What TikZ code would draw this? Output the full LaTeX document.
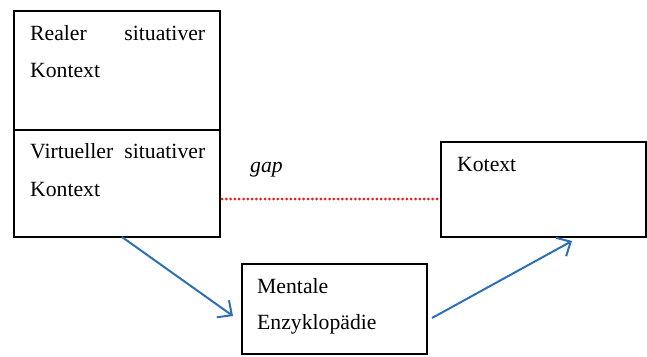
\documentclass[tikz,border=0pt]{standalone}
\usepackage{fontspec}
\setmainfont{Liberation Serif}
\usetikzlibrary{arrows.meta}
\definecolor{arrowblue}{RGB}{46,112,182}
\definecolor{gapred}{RGB}{235,25,25}
\begin{document}
\begin{tikzpicture}[x=1pt,y=-1pt,
  box/.style={draw=black,line width=2pt,minimum width=#1,inner sep=0pt,outer sep=0pt},
  txt/.style={anchor=base west,inner sep=0pt,font=\fontsize{21.7}{24}\selectfont},
  conn/.style={draw=arrowblue,line width=2pt,-{Straight Barb[length=11pt,width=21pt,line width=2pt]}},
  gapline/.style={draw=gapred,line width=3pt,line cap=round,dash pattern=on 0pt off 4.3pt}]
\useasboundingbox (0,0) rectangle (647,356);
% boxes
\node[box=206, minimum height=119] (real) at (117,70.5) {};
\node[box=206, minimum height=107] (virt) at (117,183.5) {};
\node[box=205, minimum height=95] (kot) at (543.5,189.5) {};
\node[box=185, minimum height=90] (ment) at (334.5,309) {};
% texts
\node[txt] (t1) at (30,40) {\makebox[175pt][s]{Realer\hfill situativer}};
\node[txt] (t2) at (30,77) {Kontext};
\node[txt] (t3) at (30,158) {\makebox[175pt][s]{Virtueller\hfill situativer}};
\node[txt] (t4) at (30,196) {Kontext};
\node[txt] (t5) at (457,171) {Kotext};
\node[txt] (t6) at (257,293) {Mentale};
\node[txt] (t7) at (257,329) {Enzyklopädie};
\node[txt] (tg) at (250,172) {\itshape gap};
% connector end points
\coordinate (gs) at (virt.east |- 0,199);
\coordinate (ge) at (kot.west |- 0,199);
\coordinate (a1s) at (virt.south -| 122,0);
\coordinate (a1e) at (233,316);
\coordinate (a2s) at (432,318);
\coordinate (a2e) at (572,241);
\draw[gapline] ([xshift=2pt]gs) -- (ge);
\draw[conn] (a1s) -- (a1e);
\draw[conn] (a2s) -- (a2e);
\end{tikzpicture}
\end{document}
